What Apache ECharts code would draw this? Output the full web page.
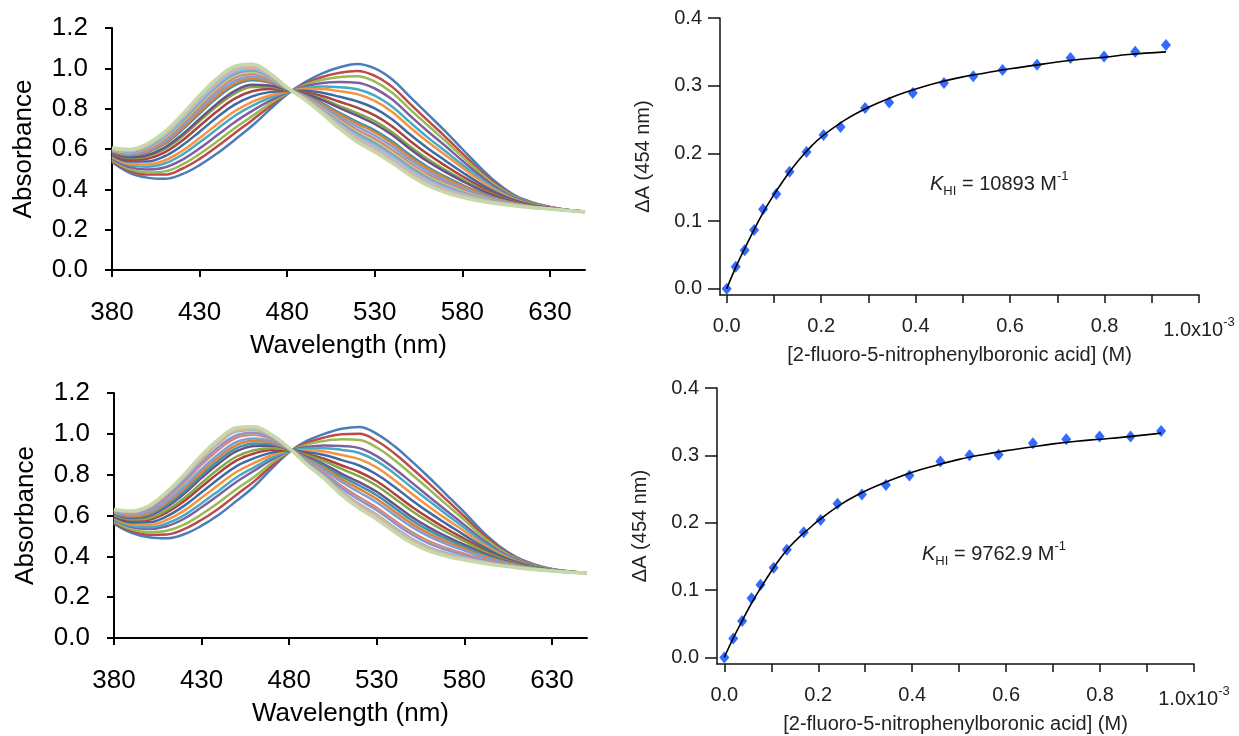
<!DOCTYPE html>
<html><head><meta charset="utf-8">
<script src="https://cdn.jsdelivr.net/npm/echarts@6/dist/echarts.min.js"></script>
<style>html,body{margin:0;padding:0;background:#fff}#c{width:1239px;height:736px}</style>
</head><body><div id="c"></div>
<script>
// ---------- DATA ----------
const wavelengths = [380,390,400,410,420,430,440,450,460,470,480,490,500,510,520,530,540,550,560,570,580,590,600,610,620,630,640,650];
const wavelengthTicks = [380,430,480,530,580,630];

// absorbance table, top titration: one row per wavelength, one column per spectrum (21 spectra)
const absTop = [
[.535,.541,.546,.552,.558,.562,.569,.574,.579,.582,.587,.589,.591,.594,.596,.598,.599,.601,.602,.603,.605],
[.482,.492,.500,.510,.520,.527,.538,.547,.555,.559,.568,.571,.575,.580,.583,.586,.589,.592,.593,.595,.598],
[.458,.473,.484,.498,.512,.523,.538,.552,.563,.569,.582,.586,.592,.599,.604,.608,.612,.616,.617,.620,.625],
[.452,.473,.489,.508,.528,.543,.564,.583,.599,.607,.625,.630,.639,.649,.655,.661,.666,.673,.674,.679,.685],
[.475,.502,.522,.546,.571,.590,.617,.641,.661,.671,.694,.700,.712,.724,.732,.740,.746,.754,.756,.762,.770],
[.520,.551,.575,.603,.633,.654,.686,.714,.738,.749,.776,.784,.797,.811,.821,.830,.837,.847,.849,.855,.865],
[.578,.612,.637,.668,.699,.723,.757,.787,.813,.825,.854,.862,.877,.892,.902,.912,.920,.930,.933,.940,.950],
[.645,.678,.703,.733,.764,.787,.820,.850,.875,.887,.916,.924,.938,.953,.963,.972,.980,.991,.993,1.000,1.010],
[.715,.743,.763,.789,.814,.834,.861,.886,.908,.918,.941,.948,.960,.972,.981,.989,.995,1.004,1.006,1.012,1.020],
[.795,.811,.824,.839,.854,.865,.882,.897,.909,.915,.929,.933,.940,.948,.953,.957,.961,.966,.968,.971,.976],
[.872,.875,.877,.880,.883,.885,.888,.891,.893,.894,.897,.897,.899,.900,.901,.902,.902,.903,.903,.904,.905],
[.930,.922,.917,.910,.902,.897,.889,.882,.876,.874,.867,.865,.862,.858,.856,.854,.852,.850,.849,.847,.845],
[.975,.957,.943,.927,.910,.897,.879,.863,.849,.842,.827,.822,.814,.806,.801,.796,.791,.786,.784,.781,.775],
[1.005,.978,.957,.932,.906,.886,.859,.834,.813,.803,.779,.772,.760,.748,.739,.731,.725,.716,.714,.709,.700],
[1.022,.987,.961,.929,.896,.872,.836,.805,.778,.765,.735,.726,.711,.695,.685,.675,.666,.656,.653,.646,.635],
[1.000,.963,.934,.900,.865,.839,.801,.767,.738,.724,.693,.683,.667,.650,.639,.628,.619,.607,.605,.597,.585],
[.945,.908,.879,.845,.810,.784,.746,.712,.683,.669,.638,.628,.612,.595,.584,.573,.564,.552,.550,.542,.530],
[.860,.825,.798,.766,.733,.708,.673,.641,.614,.601,.571,.562,.547,.531,.520,.510,.502,.491,.488,.481,.470],
[.775,.743,.719,.689,.659,.637,.605,.576,.551,.539,.512,.504,.490,.475,.466,.457,.449,.439,.437,.430,.420],
[.690,.663,.642,.617,.591,.571,.544,.519,.498,.488,.464,.457,.445,.433,.424,.416,.410,.401,.399,.394,.385],
[.600,.578,.562,.542,.522,.507,.485,.465,.449,.441,.422,.417,.407,.397,.391,.385,.379,.373,.371,.367,.360],
[.510,.495,.484,.470,.455,.445,.429,.416,.404,.398,.386,.382,.375,.368,.364,.359,.356,.351,.350,.347,.342],
[.430,.421,.414,.405,.397,.390,.381,.373,.366,.362,.354,.352,.348,.344,.341,.339,.336,.333,.333,.331,.328],
[.370,.365,.362,.358,.353,.350,.345,.341,.337,.336,.332,.330,.328,.326,.325,.323,.322,.321,.320,.320,.318],
[.335,.333,.331,.329,.327,.325,.323,.320,.319,.318,.316,.315,.314,.313,.312,.312,.311,.310,.310,.310,.309],
[.313,.312,.311,.310,.309,.309,.308,.307,.306,.306,.305,.305,.304,.304,.303,.303,.303,.303,.303,.302,.302],
[.298,.298,.298,.297,.297,.297,.297,.296,.296,.296,.296,.296,.296,.295,.295,.295,.295,.295,.295,.295,.295],
[.290,.290,.290,.290,.289,.289,.289,.289,.289,.289,.289,.288,.288,.288,.288,.288,.288,.288,.288,.288,.288]
];

// absorbance table, bottom titration: one row per wavelength, one column per spectrum
const absBottom = [
[.560,.566,.571,.578,.582,.588,.593,.599,.603,.608,.610,.613,.616,.621,.622,.623,.626,.627,.628,.628,.630],
[.515,.524,.532,.543,.549,.557,.566,.574,.580,.588,.592,.597,.601,.608,.610,.611,.616,.618,.619,.619,.622],
[.493,.506,.518,.534,.543,.554,.567,.579,.587,.598,.605,.611,.618,.627,.631,.632,.640,.642,.644,.644,.648],
[.488,.507,.525,.547,.561,.578,.596,.614,.626,.642,.651,.661,.670,.685,.690,.691,.703,.707,.709,.710,.715],
[.508,.533,.555,.584,.601,.624,.647,.670,.685,.706,.718,.731,.743,.761,.768,.770,.784,.789,.793,.793,.800],
[.550,.579,.606,.640,.660,.687,.714,.741,.759,.784,.798,.813,.827,.849,.857,.859,.876,.882,.886,.887,.895],
[.605,.636,.665,.702,.723,.752,.781,.810,.830,.856,.871,.887,.902,.925,.935,.937,.955,.961,.966,.966,.975],
[.672,.702,.730,.765,.787,.814,.842,.870,.889,.915,.930,.945,.960,.982,.991,.993,1.011,1.017,1.021,1.021,1.030],
[.742,.767,.789,.819,.836,.858,.881,.904,.920,.941,.953,.966,.977,.996,1.003,1.005,1.019,1.024,1.028,1.028,1.035],
[.830,.844,.857,.873,.883,.895,.908,.921,.930,.942,.949,.956,.963,.973,.977,.978,.986,.989,.991,.991,.995],
[.910,.912,.913,.915,.916,.918,.920,.921,.922,.924,.924,.925,.926,.927,.928,.928,.929,.929,.930,.930,.930],
[.965,.955,.947,.935,.928,.920,.910,.901,.895,.887,.882,.877,.873,.865,.863,.862,.856,.854,.853,.853,.850],
[1.000,.982,.965,.943,.930,.913,.896,.878,.867,.851,.842,.832,.823,.810,.804,.803,.792,.788,.786,.785,.780],
[1.025,.998,.973,.940,.921,.896,.871,.845,.828,.804,.791,.777,.764,.744,.735,.734,.718,.712,.708,.708,.700],
[1.034,1.001,.970,.930,.906,.876,.845,.813,.792,.763,.747,.730,.714,.689,.679,.677,.657,.650,.645,.645,.635],
[1.000,.965,.933,.891,.866,.835,.801,.768,.746,.716,.699,.681,.664,.638,.628,.626,.605,.598,.592,.592,.582],
[.940,.905,.872,.830,.806,.774,.741,.707,.685,.655,.638,.620,.603,.576,.566,.564,.543,.536,.531,.530,.520],
[.865,.831,.801,.761,.737,.707,.675,.643,.622,.593,.577,.560,.544,.519,.509,.507,.487,.480,.475,.475,.465],
[.785,.755,.727,.691,.670,.642,.614,.586,.567,.541,.526,.510,.496,.473,.464,.462,.444,.438,.434,.434,.425],
[.700,.675,.652,.622,.604,.581,.558,.534,.518,.496,.484,.471,.459,.440,.433,.431,.416,.411,.408,.407,.400],
[.615,.595,.578,.554,.540,.523,.504,.486,.474,.457,.447,.437,.428,.413,.407,.406,.395,.391,.388,.388,.382],
[.525,.512,.500,.484,.474,.462,.450,.438,.429,.418,.411,.404,.398,.388,.384,.383,.376,.373,.371,.371,.367],
[.450,.442,.435,.425,.420,.412,.405,.397,.392,.386,.382,.378,.374,.368,.365,.365,.360,.359,.357,.357,.355],
[.395,.391,.387,.382,.379,.375,.371,.367,.364,.360,.358,.356,.354,.351,.350,.349,.347,.346,.345,.345,.344],
[.360,.358,.356,.354,.352,.350,.348,.346,.345,.343,.342,.341,.340,.338,.338,.338,.336,.336,.336,.336,.335],
[.338,.337,.336,.335,.335,.334,.333,.332,.332,.331,.331,.330,.330,.329,.329,.329,.329,.328,.328,.328,.328],
[.326,.326,.325,.325,.325,.324,.324,.324,.324,.323,.323,.323,.323,.323,.322,.322,.322,.322,.322,.322,.322],
[.318,.318,.318,.318,.318,.318,.318,.318,.318,.318,.318,.318,.318,.318,.318,.318,.318,.318,.318,.318,.318]
];

// concentration of 2-fluoro-5-nitrophenylboronic acid, in units of 1e-3 M
const concX = [0,0.019,0.038,0.058,0.077,0.105,0.133,0.169,0.205,0.241,0.293,0.344,0.394,0.460,0.522,0.584,0.657,0.728,0.799,0.865,0.930];
const deltaATop = [0,0.0325,0.0568,0.0868,0.1174,0.140,0.173,0.202,0.227,0.239,0.267,0.275,0.289,0.304,0.314,0.323,0.331,0.341,0.343,0.350,0.360];
const deltaABottom = [0,0.028,0.054,0.088,0.108,0.133,0.160,0.186,0.204,0.228,0.242,0.256,0.270,0.291,0.300,0.301,0.318,0.324,0.328,0.328,0.336];

const fitX = [0,0.02,0.04,0.06,0.08,0.10,0.12,0.14,0.16,0.18,0.20,0.25,0.30,0.35,0.40,0.45,0.50,0.55,0.60,0.65,0.70,0.75,0.80,0.85,0.93];
const fitTop = [0,0.033,0.062,0.090,0.116,0.139,0.160,0.179,0.196,0.211,0.224,0.249,0.268,0.283,0.295,0.305,0.313,0.319,0.325,0.330,0.335,0.339,0.342,0.346,0.350];
const fitBottom = [0,0.030,0.057,0.083,0.106,0.128,0.148,0.165,0.179,0.191,0.203,0.228,0.247,0.262,0.275,0.285,0.294,0.301,0.307,0.312,0.317,0.321,0.324,0.327,0.333];

const concTicks = [0,0.1,0.2,0.3,0.4,0.5,0.6,0.7,0.8,0.9,1.0];
const concLabels = [0,0.2,0.4,0.6,0.8,1.0];
const dATicks = [0,0.1,0.2,0.3,0.4];

const palette = ['#4A7EBB','#BE4B48','#98B954','#7D60A0','#46AAC5','#F69240',
  '#3D6CA5','#AA4340','#86A648','#6A5289','#3A94AC','#DE8035',
  '#7EA0D0','#D4807E','#B5CE88','#A08CC1','#7AC2D7','#F9AF72',
  '#A9BFDF','#E3ACAB','#C6D9A8'];

// ---------- CHART ----------
const FONT = 'Liberation Sans, Arial, sans-serif';
const chart = echarts.init(document.getElementById('c'), null, {renderer:'canvas'});

function leftX(gi){
  return {gridIndex:gi, type:'value', min:380, max:650,
    axisLine:{show:true, onZero:false, lineStyle:{color:'#000', width:2}},
    axisTick:{show:true, length:7, lineStyle:{color:'#000', width:2}, customValues:wavelengthTicks},
    axisLabel:{customValues:wavelengthTicks, margin:30, color:'#000', fontSize:26, fontFamily:FONT},
    splitLine:{show:false},
    name:'Wavelength (nm)', nameLocation:'middle', nameGap:63,
    nameTextStyle:{color:'#000', fontSize:26, fontFamily:FONT}};
}
function leftY(gi){
  return {gridIndex:gi, type:'value', min:0, max:1.2, interval:0.2,
    axisLine:{show:true, onZero:false, lineStyle:{color:'#000', width:2}},
    axisTick:{show:true, length:7, lineStyle:{color:'#000', width:2}},
    axisLabel:{margin:24, color:'#000', fontSize:26, fontFamily:FONT, formatter:v=>v.toFixed(1)},
    splitLine:{show:false},
    name:'Absorbance', nameLocation:'middle', nameGap:75, nameRotate:90,
    nameTextStyle:{color:'#000', fontSize:26, fontFamily:FONT}};
}
function rightX(gi, minV){
  return {gridIndex:gi, type:'value', min:minV, max:1.0,
    axisLine:{show:true, onZero:false, lineStyle:{color:'#111', width:1.5}},
    axisTick:{show:true, length:8, lineStyle:{color:'#111', width:1.5}, customValues:concTicks},
    axisLabel:{customValues:concLabels, margin:21, color:'#222', fontSize:20, fontFamily:FONT,
      formatter:v=> v>=0.999 ? '{b|1.0x10}{s|-3}' : v.toFixed(1),
      rich:{b:{fontSize:20, fontFamily:FONT, color:'#222', lineHeight:24, verticalAlign:'bottom'},
            s:{fontSize:13, fontFamily:FONT, color:'#222', lineHeight:24, verticalAlign:'top'}}},
    splitLine:{show:false},
    name:'[2-fluoro-5-nitrophenylboronic acid] (M)', nameLocation:'middle', nameGap:50,
    nameTextStyle:{color:'#222', fontSize:20, fontFamily:FONT}};
}
function rightY(gi, minV){
  return {gridIndex:gi, type:'value', min:minV, max:0.4,
    axisLine:{show:true, onZero:false, lineStyle:{color:'#111', width:1.5}},
    axisTick:{show:true, length:12, lineStyle:{color:'#111', width:1.5}, customValues:dATicks},
    axisLabel:{customValues:dATicks, margin:18, color:'#222', fontSize:20, fontFamily:FONT, formatter:v=>v.toFixed(1)},
    splitLine:{show:false},
    name:'ΔA (454 nm)', nameLocation:'middle', nameGap:67, nameRotate:90,
    nameTextStyle:{color:'#222', fontSize:20, fontFamily:FONT}};
}

const series = [];
function addSpectra(table, axisIdx){
  const nSpectra = table[0].length;
  for (let i = 0; i < nSpectra; i++){
    series.push({type:'line', xAxisIndex:axisIdx, yAxisIndex:axisIdx, symbol:'none', smooth:0.4,
      silent:true, animation:false,
      lineStyle:{color:palette[i], width: i===nSpectra-1 ? 3.5 : 2.5},
      data: wavelengths.map((w, k) => [w, table[k][i]])});
  }
}
addSpectra(absTop, 0);
addSpectra(absBottom, 1);

function addFit(fitY, pts, axisIdx){
  series.push({type:'line', xAxisIndex:axisIdx, yAxisIndex:axisIdx, symbol:'none', smooth:0.4,
    animation:false, lineStyle:{color:'#000', width:1.6},
    data: fitX.map((x, k) => [x, fitY[k]])});
  series.push({type:'scatter', xAxisIndex:axisIdx, yAxisIndex:axisIdx, symbol:'diamond', symbolSize:[10,12],
    animation:false, itemStyle:{color:'#0046FF'},
    data: concX.map((x, k) => [x, pts[k]])});
}
addFit(fitTop, deltaATop, 2);
addFit(fitBottom, deltaABottom, 3);

const kRich = {
  k:{fontSize:20, fontStyle:'italic', fontWeight:'normal', fontFamily:FONT, color:'#222', lineHeight:28, verticalAlign:'middle'},
  sub:{fontSize:13, fontWeight:'normal', fontFamily:FONT, color:'#222', lineHeight:28, verticalAlign:'bottom'},
  n:{fontSize:20, fontWeight:'normal', fontFamily:FONT, color:'#222', lineHeight:28, verticalAlign:'middle'},
  sup:{fontSize:13, fontWeight:'normal', fontFamily:FONT, color:'#222', lineHeight:28, verticalAlign:'top'}
};

chart.setOption({
  animation:false,
  backgroundColor:'#fff',
  title:[
    {left:925, top:165, text:'{k|K}{sub|HI}{n| = 10893 M}{sup|-1}', textStyle:{fontWeight:'normal', rich:kRich}},
    {left:917, top:535, text:'{k|K}{sub|HI}{n| = 9762.9 M}{sup|-1}', textStyle:{fontWeight:'normal', rich:kRich}}
  ],
  grid:[
    {left:112, top:28, width:473, height:242},
    {left:114, top:393, width:473, height:245},
    {left:720, top:18, width:479, height:277},
    {left:717, top:388, width:477, height:276}
  ],
  xAxis:[leftX(0), leftX(1), rightX(2, -0.0142), rightX(3, -0.0156)],
  yAxis:[leftY(0), leftY(1), rightY(2, -0.0093), rightY(3, -0.0098)],
  series: series
});
</script>
</body></html>
